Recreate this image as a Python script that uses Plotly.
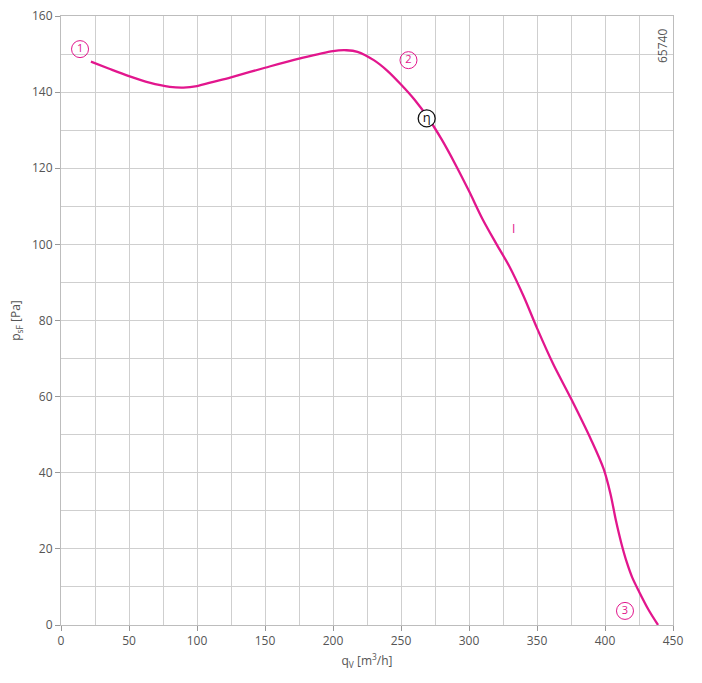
import plotly.graph_objects as go

# curve data (q_V in m3/h, p_sF in Pa)
qv = [22, 35, 50, 65, 80, 90, 100, 112, 125, 150, 175, 200, 210, 218, 230, 240, 250, 260, 270,
      280, 290, 300, 310, 320, 330, 340, 350, 362, 375, 390, 399, 404, 408, 412, 416, 420, 425, 432, 439]
ps = [148, 146.2, 144.2, 142.5, 141.4, 141.2, 141.6, 142.7, 143.9, 146.4, 148.8, 150.8, 151.0, 150.6,
      148.4, 145.6, 142.0, 138.0, 133.2, 127.5, 121.0, 114.0, 106.6, 100.2, 94.0, 86.5, 78.0, 68.5,
      59.5, 48.5, 41.0, 34.5, 27.5, 21.5, 16.5, 12.5, 8.8, 4.0, 0]

# circled labels
lab_x = [14, 255.5, 414.7]
lab_y = [151.3, 148.4, 3.7]
lab_t = ["1", "2", "3"]

eta_x = [268.9]
eta_y = [133.1]

magenta = "#E2168D"
grey_txt = "#555555"
font_fam = "Open Sans, Noto Sans, sans-serif"

fig = go.Figure()
fig.add_trace(go.Scatter(x=qv, y=ps, mode="lines", line=dict(color=magenta, width=2.3, shape="spline", smoothing=0.9),
                         hoverinfo="skip", showlegend=False))
fig.add_trace(go.Scatter(x=lab_x, y=lab_y, mode="markers+text", text=lab_t, textposition="middle center",
                         textfont=dict(color=magenta, size=11, family=font_fam),
                         marker=dict(symbol="circle", size=17, color="rgba(255,255,255,0)",
                                     line=dict(color=magenta, width=1)),
                         showlegend=False, hoverinfo="skip"))
fig.add_trace(go.Scatter(x=eta_x, y=eta_y, mode="markers+text", text=["η"], textposition="middle center",
                         textfont=dict(color="#111111", size=13, family=font_fam),
                         marker=dict(symbol="circle", size=17, color="white",
                                     line=dict(color="#111111", width=1.3)),
                         showlegend=False, hoverinfo="skip"))

fig.add_annotation(x=332.9, y=104.3, text="I", showarrow=False,
                   font=dict(color=magenta, size=12, family=font_fam))

axis_common = dict(showgrid=True, gridcolor="#cfcfcf", gridwidth=1, showline=True, linecolor="#bdbdbd",
                   linewidth=1, mirror=True, ticks="outside", ticklen=5, tickcolor="#999999",
                   tickfont=dict(color=grey_txt, size=12, family=font_fam), zeroline=False,
                   automargin=False)

fig.update_xaxes(range=[0, 450], dtick=50, tick0=0,
                 minor=dict(dtick=25, showgrid=True, gridcolor="#cfcfcf", ticks=""),
                 title=dict(text="q<sub>V</sub> [m<sup>3</sup>/h]", font=dict(color=grey_txt, size=12, family=font_fam),
                            standoff=8),
                 **axis_common)
fig.update_yaxes(range=[0, 160], dtick=20, tick0=0,
                 minor=dict(dtick=10, showgrid=True, gridcolor="#cfcfcf", ticks=""),
                 title=dict(text="p<sub>sF</sub> [Pa]", font=dict(color=grey_txt, size=12, family=font_fam),
                            standoff=8),
                 **axis_common)

fig.update_layout(width=702, height=683, margin=dict(l=61, r=29, t=16, b=58),
                  plot_bgcolor="white", paper_bgcolor="white")

# rotated id text near the top-right corner of the plot
pw, ph = 702 - 61 - 29, 683 - 16 - 58
fig.add_annotation(x=(662 - 61) / pw, y=(625 - 46) / ph, xref="paper", yref="paper", text="65740",
                   showarrow=False, textangle=-90, xanchor="center", yanchor="middle",
                   font=dict(color=grey_txt, size=12, family=font_fam))

fig.write_html("out.html")
